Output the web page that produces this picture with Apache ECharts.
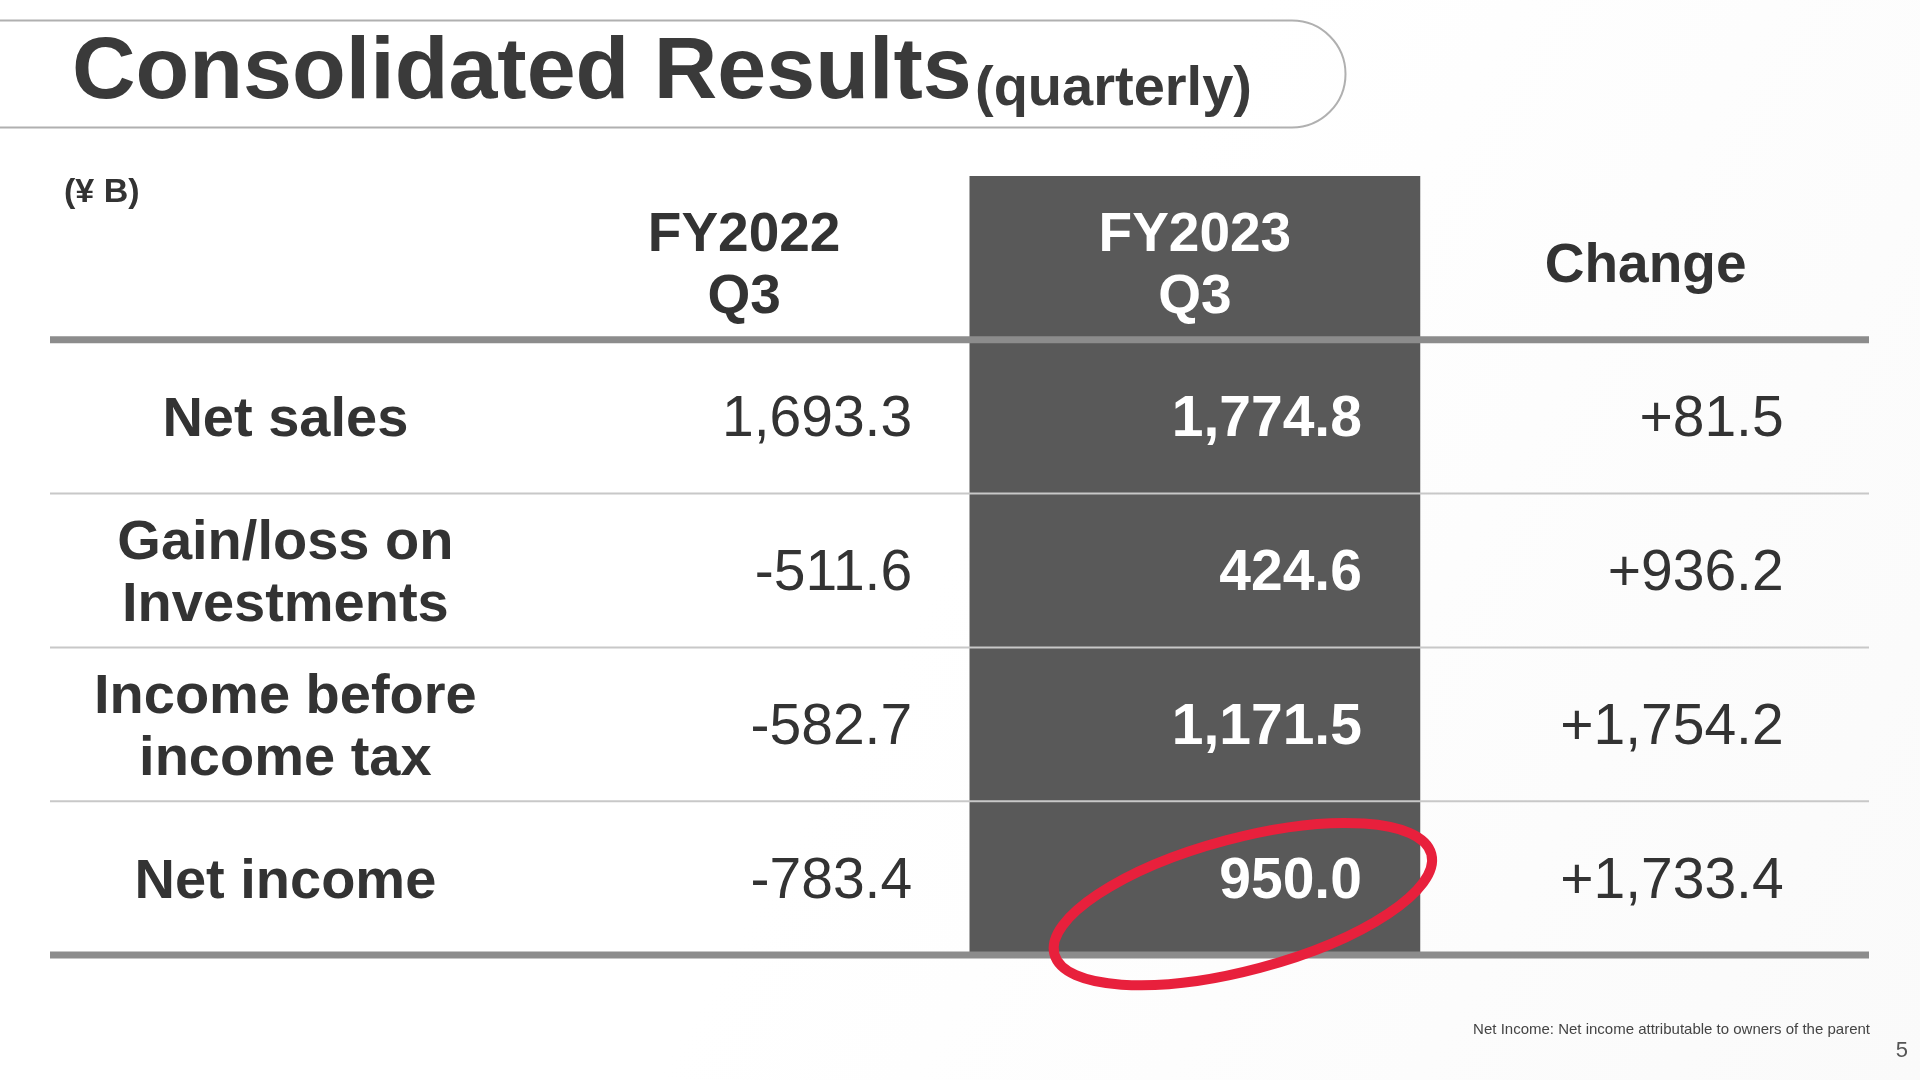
<!DOCTYPE html>
<html><head><meta charset="utf-8">
<script src="https://cdn.jsdelivr.net/npm/echarts@6/dist/echarts.min.js"></script>
<style>html,body{margin:0;padding:0;}#c{width:1920px;height:1080px;}</style>
</head><body><div id="c"></div>
<script>
const columns = ['', 'FY2022\nQ3', 'FY2023\nQ3', 'Change'];
const rowLabels = ['Net sales', 'Gain/loss on\nInvestments', 'Income before\nincome tax', 'Net income'];
const fy2022 = ['1,693.3', '-511.6', '-582.7', '-783.4'];
const fy2023 = ['1,774.8', '424.6', '1,171.5', '950.0'];
const change = ['+81.5', '+936.2', '+1,754.2', '+1,733.4'];
const unitLabel = '(¥ B)';
const footnote = 'Net Income: Net income attributable to owners of the parent';

const yCats = ['header', ...rowLabels];
const data = [];
for (let r = 0; r < yCats.length; r++) for (let c = 0; c < columns.length; c++) data.push([c, r]);
const rightOffset = [0, 180, 175, 142];
const F = 'Arial, "Liberation Sans", sans-serif';

function renderItem(params, api) {
  const c = api.value(0), r = api.value(1);
  const p = api.coord([c, r]);
  const sz = api.size([1, 1]);
  const cs = params.coordSys;
  const top = p[1] - sz[1] / 2, bot = p[1] + sz[1] / 2;
  const ch = [];
  if (c === 2) {
    ch.push({type: 'rect', z2: 0, shape: {x: p[0] - sz[0] / 2 + 10, y: r === 0 ? top - 10 : top, width: sz[0] - 4, height: r === 0 ? sz[1] + 10 : sz[1]}, style: {fill: '#595959'}});
  }
  if (c === 0 && r >= 1) {
    const thick = r === 1;
    ch.push({type: 'line', z2: 5, shape: {x1: cs.x, y1: top, x2: cs.x + cs.width, y2: top}, style: {stroke: thick ? '#8c8c8c' : '#c8c8c8', lineWidth: thick ? 7 : 2}});
    if (r === yCats.length - 1) ch.push({type: 'line', z2: 5, shape: {x1: cs.x, y1: bot, x2: cs.x + cs.width, y2: bot}, style: {stroke: '#8c8c8c', lineWidth: 7}});
  }
  let text = '', align = 'center', x = p[0], color = '#333', weight = 'bold', size = 55;
  if (r === 0) {
    text = columns[c]; color = c === 2 ? '#fff' : '#333';
    if (c === 1) x = p[0] + 12;
    if (c === 2) x = p[0] + 8;
    if (c === 3) x = p[0] + 4;
  } else {
    const i = r - 1;
    if (c === 0) { text = rowLabels[i]; x = p[0] + 8; size = 56; }
    else {
      text = [null, fy2022, fy2023, change][c][i];
      align = 'right'; x = p[0] + rightOffset[c]; size = 57;
      weight = c === 2 ? 'bold' : 'normal'; color = c === 2 ? '#fff' : '#333';
    }
  }
  ch.push({type: 'text', z2: 10, style: {text, x, y: p[1] + 4, align, verticalAlign: 'middle', fill: color, font: weight + ' ' + size + 'px ' + F, lineHeight: 62}});
  if (c === 2 && r === yCats.length - 1) {
    ch.push({type: 'ellipse', z2: 12, x: p[0] + 56, y: p[1] + 26, rotation: 0.26,
      shape: {cx: 0, cy: 0, rx: 195, ry: 66}, style: {fill: 'none', stroke: '#e8203c', lineWidth: 10}});
  }
  return {type: 'group', children: ch};
}

const chart = echarts.init(document.getElementById('c'));
chart.setOption({
  backgroundColor: {type: 'linear', x: 0, y: 0, x2: 1, y2: 1, colorStops: [{offset: 0, color: '#ffffff'}, {offset: 0.5, color: '#ffffff'}, {offset: 1, color: '#fafafa'}]},
  animation: false,
  grid: {left: 50, right: 51, top: 186, bottom: 125},
  xAxis: {type: 'category', data: columns, show: false},
  yAxis: {type: 'category', data: yCats, inverse: true, show: false},
  graphic: [
    {type: 'rect', left: -20, top: 18, shape: {width: 1363, height: 107, r: [0, 54, 54, 0]}, style: {fill: 'none', stroke: '#b0b0b0', lineWidth: 2}},
    {type: 'text', left: 72, top: 30, style: {text: '{a|Consolidated Results} {b|(quarterly)}',
      rich: {a: {font: 'bold 88px ' + F, fill: '#3a3a3a', verticalAlign: 'bottom'}, b: {font: 'bold 56px ' + F, fill: '#3a3a3a', verticalAlign: 'bottom', padding: [0, 0, 0, 0]}}}},
    {type: 'text', left: 64, top: 176, style: {text: unitLabel, font: 'bold 34px ' + F, fill: '#333'}},
    {type: 'text', right: 50, top: 1022, style: {text: footnote, font: '15px ' + F, fill: '#444'}},
    {type: 'text', right: 12, top: 1040, style: {text: '5', font: '22px ' + F, fill: '#555'}}
  ],
  series: [{type: 'custom', renderItem, data, encode: {x: 0, y: 1}, clip: false}]
});
</script></body></html>
